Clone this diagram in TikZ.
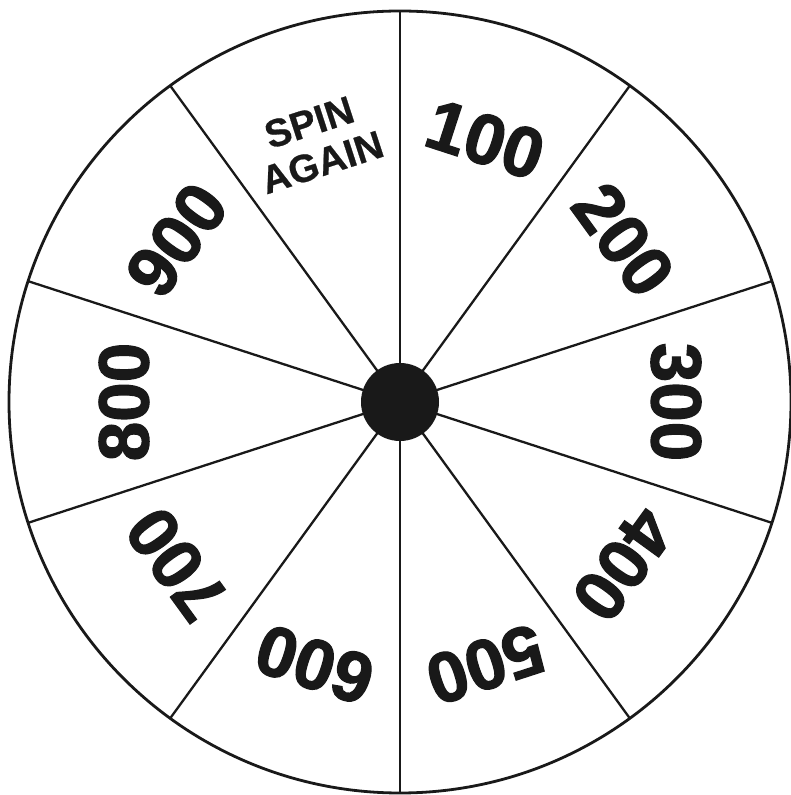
\documentclass[tikz,border=0pt]{standalone}
\usepackage{fontspec}
\usetikzlibrary{calc}
\setmainfont{Liberation Sans}
\newfontfamily\numfont[FakeBold=1.8]{Liberation Sans Bold}
\newfontfamily\spinfont[FakeBold=0.6]{Liberation Sans Bold}
\begin{document}
\begin{tikzpicture}[x=1pt,y=1pt,
  rim/.style={line width=2.8pt, draw=black!90},
  divider/.style={line width=2.3pt, draw=black!90},
  numlabel/.style={font=\numfont\fontsize{71}{71}\selectfont, inner sep=0pt, text=black!90},
  spinlabel/.style={font=\spinfont\fontsize{39}{42}\selectfont, inner sep=0pt, align=center, text=black!90}]
\useasboundingbox (0,0) rectangle (791,795);
\coordinate (c) at (400,393);
\draw[rim] (c) circle (391);
\foreach \a in {90,126,...,414}{
  \coordinate (e\a) at ($(c)+(\a:391)$);
  \draw[divider] (c) -- (e\a);
}
\fill[black!90] (c) circle (39);
\node[spinlabel, rotate=18] (spin) at ($(c)+(108:273)$) {SPIN\\AGAIN};
\foreach \n/\a in {100/72,200/36,300/0,400/-36,500/-72,600/-108,700/-144,800/-180,900/-216}{
  \node[numlabel, rotate=\a-90] (n\n) at ($(c)+(\a:276)$) {\n};
}
\end{tikzpicture}
\end{document}
